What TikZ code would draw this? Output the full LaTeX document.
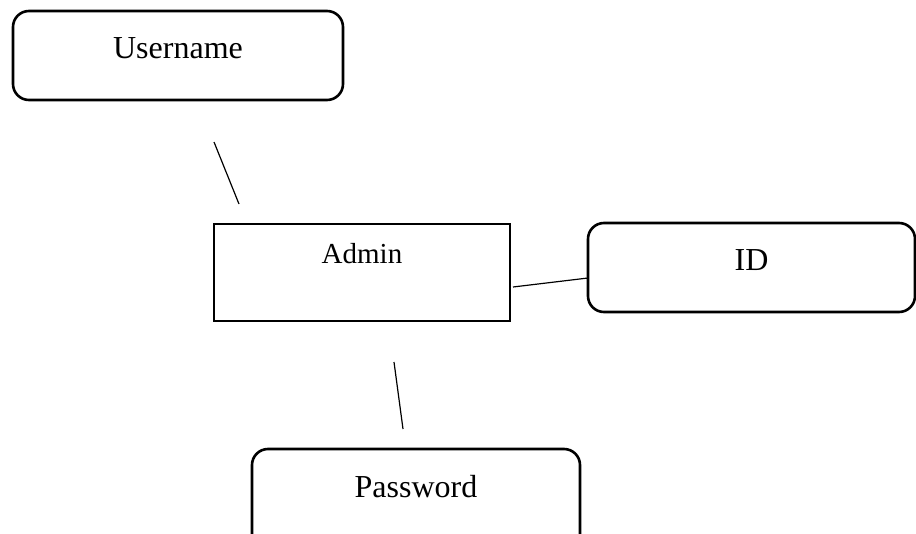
\documentclass[tikz,border=0pt]{standalone}
\usepackage{fontspec}
\setmainfont{Liberation Serif}
\begin{document}
\begin{tikzpicture}[x=1pt,y=-1pt,
  boxbase/.style={draw,line width=2.6pt,anchor=north west,inner sep=0pt,outer sep=0pt},
  attrbox/.style={boxbase,rounded corners=16pt},
  entbox/.style={boxbase},
  lbl/.style={font=\fontsize{32}{38}\selectfont,inner sep=0pt,anchor=base},
  link/.style={line width=1.2pt}]
  \clip (0,0) rectangle (916,533);
  % entity and attribute boxes
  \node[attrbox,minimum width=330pt,minimum height=89pt] (userbox) at (13,11) {};
  \node[entbox,minimum width=296pt,minimum height=97pt] (adminbox) at (214,224) {};
  \node[attrbox,minimum width=327pt,minimum height=89pt] (idbox) at (588,223) {};
  \node[attrbox,minimum width=328pt,minimum height=111pt] (passbox) at (252,449) {};
  % labels, set near the top of each box
  \node[lbl] (username) at ([yshift=-47pt]userbox.north) {Username};
  \node[lbl,font=\fontsize{29}{35}\selectfont] (admin) at ([yshift=-39pt]adminbox.north) {Admin};
  \node[lbl] (id) at ([yshift=-47pt]idbox.north) {ID};
  \node[lbl] (password) at ([yshift=-48pt]passbox.north) {Password};
  % connector end points, each short of the boxes
  \coordinate (u1) at (214,142);
  \coordinate (u2) at (239,204);
  \coordinate (i1) at (513,287);
  \coordinate (i2) at (idbox.west |- 0,278);
  \coordinate (p1) at (394,362);
  \coordinate (p2) at (403,429);
  \draw[link] (u1) -- (u2);
  \draw[link] (i1) -- (i2);
  \draw[link] (p1) -- (p2);
\end{tikzpicture}
\end{document}
